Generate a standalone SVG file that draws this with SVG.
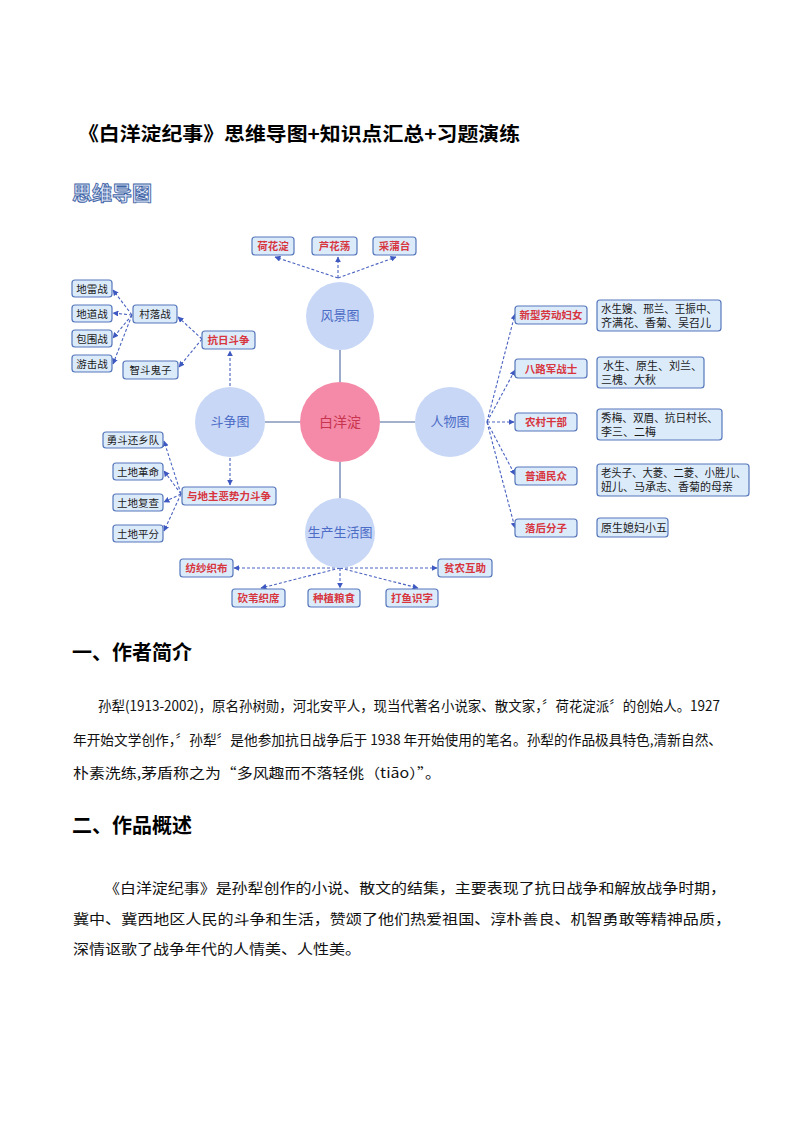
<svg xmlns="http://www.w3.org/2000/svg" width="794" height="1123" viewBox="0 0 794 1123">
<style>
.cjk{font-family:"Noto Sans CJK SC","Noto Sans",sans-serif}
.box{fill:#dcebfa;stroke:#5577bb;stroke-width:1.2}
.rt{fill:#d8363f;font-size:10.5px;font-weight:bold;font-family:"Noto Sans CJK SC",sans-serif;text-anchor:middle}
.bt{fill:#1a1a1a;font-size:10.5px;font-family:"Noto Sans CJK SC",sans-serif;text-anchor:middle}
.dt{fill:#1a1a1a;font-size:11px;font-family:"Noto Sans CJK SC",sans-serif}
.sat{fill:#c8d7f6}
.satt{fill:#4c6cc6;font-size:13px;font-family:"Noto Sans CJK SC",sans-serif;text-anchor:middle}
.solid{stroke:#8496bd;stroke-width:1.6;fill:none}
.dash{stroke:#4a62c0;stroke-width:1.1;stroke-dasharray:3 2;fill:none;marker-end:url(#ah)}
.body{fill:#111;font-size:14px;font-family:"Noto Sans CJK SC",sans-serif}
.h2{fill:#000;font-size:20px;font-weight:bold;font-family:"Noto Sans CJK SC",sans-serif}
</style>
<defs>
<marker id="ah" viewBox="0 0 10 10" refX="9" refY="5" markerWidth="6" markerHeight="6" orient="auto" markerUnits="userSpaceOnUse">
<path d="M0,0 L10,5 L0,10 z" fill="#3d58c0"/>
</marker>
</defs>
<rect width="794" height="1123" fill="#fff"/>

<text x="78" y="141" font-size="19.5" font-weight="bold" class="cjk" fill="#000" textLength="442" lengthAdjust="spacingAndGlyphs">《白洋淀纪事》思维导图+知识点汇总+习题演练</text>
<text x="72" y="201" font-size="20" font-weight="bold" class="cjk" fill="#dde8f8" stroke="#3f63a6" stroke-width="0.9">思维导图</text>

<g id="connectors">
<line class="solid" x1="340" y1="350" x2="340" y2="382"/>
<line class="solid" x1="300" y1="422" x2="265" y2="422"/>
<line class="solid" x1="380" y1="422" x2="415" y2="422"/>
<line class="solid" x1="340" y1="462" x2="340" y2="498"/>
<line class="dash" x1="338" y1="278" x2="275" y2="257"/>
<line class="dash" x1="338" y1="278" x2="338" y2="257"/>
<line class="dash" x1="338" y1="278" x2="396" y2="257"/>
<line class="dash" x1="230" y1="386" x2="230" y2="351"/>
<line class="dash" x1="202" y1="339" x2="178" y2="317"/>
<line class="dash" x1="202" y1="339" x2="179" y2="367"/>
<line class="dash" x1="132" y1="315" x2="113" y2="290"/>
<line class="dash" x1="132" y1="315" x2="113" y2="313"/>
<line class="dash" x1="132" y1="315" x2="113" y2="338"/>
<line class="dash" x1="132" y1="315" x2="113" y2="364"/>
<line class="dash" x1="230" y1="458" x2="230" y2="485"/>
<line class="dash" x1="181" y1="494" x2="164" y2="441"/>
<line class="dash" x1="181" y1="494" x2="164" y2="471"/>
<line class="dash" x1="181" y1="494" x2="164" y2="502"/>
<line class="dash" x1="181" y1="494" x2="164" y2="531"/>
<line class="dash" x1="487" y1="422" x2="515" y2="314"/>
<line class="dash" x1="487" y1="422" x2="515" y2="370"/>
<line class="dash" x1="487" y1="422" x2="514" y2="422"/>
<line class="dash" x1="487" y1="422" x2="515" y2="475"/>
<line class="dash" x1="487" y1="422" x2="515" y2="528"/>
<line class="dash" x1="340" y1="568" x2="234" y2="568"/>
<line class="dash" x1="340" y1="568" x2="437" y2="568"/>
<line class="dash" x1="340" y1="568" x2="261" y2="588"/>
<line class="dash" x1="340" y1="568" x2="340" y2="588"/>
<line class="dash" x1="340" y1="568" x2="418" y2="588"/>
</g>

<g id="n-center"><circle cx="340" cy="422" r="40" fill="#f48aa7"/><text x="340" y="427" class="satt" style="fill:#c8344e;font-size:14px">白洋淀</text></g>
<g id="n-fengjing"><circle class="sat" cx="340" cy="316" r="34"/><text x="340" y="320" class="satt">风景图</text></g>
<g id="n-douzheng"><circle class="sat" cx="230" cy="422" r="35"/><text x="230" y="426" class="satt">斗争图</text></g>
<g id="n-renwu"><circle class="sat" cx="450" cy="422" r="35"/><text x="450" y="426" class="satt">人物图</text></g>
<g id="n-shengchan"><circle class="sat" cx="340" cy="533" r="35"/><text x="340" y="537" class="satt">生产生活图</text></g>

<g id="n-hehuadian"><rect class="box" x="252" y="237" width="42" height="18" rx="3"/><text class="rt" x="273" y="250">荷花淀</text></g>
<g id="n-luhuadang"><rect class="box" x="312" y="237" width="45" height="18" rx="3"/><text class="rt" x="334.5" y="250">芦花荡</text></g>
<g id="n-caiputai"><rect class="box" x="373" y="237" width="43" height="18" rx="3"/><text class="rt" x="394.5" y="250">采蒲台</text></g>

<g id="n-dilei"><rect class="box" x="72" y="280" width="40" height="17" rx="3"/><text class="bt" x="92" y="292.5">地雷战</text></g>
<g id="n-didao"><rect class="box" x="72" y="305" width="40" height="17" rx="3"/><text class="bt" x="92" y="317.5">地道战</text></g>
<g id="n-baowei"><rect class="box" x="72" y="330" width="40" height="17" rx="3"/><text class="bt" x="92" y="342.5">包围战</text></g>
<g id="n-youji"><rect class="box" x="72" y="355" width="40" height="17" rx="3"/><text class="bt" x="92" y="367.5">游击战</text></g>
<g id="n-cunluo"><rect class="box" x="133" y="305" width="44" height="18" rx="3"/><text class="bt" x="155" y="318">村落战</text></g>
<g id="n-kangri"><rect class="box" x="202" y="331" width="53" height="18" rx="3"/><text class="rt" x="228.5" y="344">抗日斗争</text></g>
<g id="n-zhidou"><rect class="box" x="123" y="361" width="55" height="18" rx="3"/><text class="bt" x="150.5" y="374">智斗鬼子</text></g>

<g id="n-yongdou"><rect class="box" x="103" y="432" width="60" height="16" rx="3"/><text class="bt" x="133" y="444">勇斗还乡队</text></g>
<g id="n-geming"><rect class="box" x="113" y="463" width="50" height="17" rx="3"/><text class="bt" x="138" y="475.5">土地革命</text></g>
<g id="n-fucha"><rect class="box" x="113" y="494" width="50" height="17" rx="3"/><text class="bt" x="138" y="506.5">土地复查</text></g>
<g id="n-pingfen"><rect class="box" x="113" y="525" width="50" height="17" rx="3"/><text class="bt" x="138" y="537.5">土地平分</text></g>
<g id="n-dizhu"><rect class="box" x="182" y="487" width="94" height="18" rx="3"/><text class="rt" x="229" y="500">与地主恶势力斗争</text></g>

<g id="n-funv"><rect class="box" x="515" y="306" width="72" height="18" rx="3"/><text class="rt" x="551" y="319">新型劳动妇女</text></g>
<g id="n-balu"><rect class="box" x="515" y="359" width="72" height="19" rx="3"/><text class="rt" x="551" y="372.5">八路军战士</text></g>
<g id="n-ganbu"><rect class="box" x="515" y="413" width="62" height="18" rx="3"/><text class="rt" x="546" y="426">农村干部</text></g>
<g id="n-minzhong"><rect class="box" x="515" y="467" width="62" height="18" rx="3"/><text class="rt" x="546" y="480">普通民众</text></g>
<g id="n-luohou"><rect class="box" x="515" y="519" width="62" height="18" rx="3"/><text class="rt" x="546" y="532">落后分子</text></g>

<g id="n-d1"><rect class="box" x="597" y="300" width="124" height="31" rx="3"/><text class="dt" x="601" y="313" textLength="116" lengthAdjust="spacingAndGlyphs">水生嫂、邢兰、王振中、</text><text class="dt" x="601" y="327">齐满花、香菊、吴召儿</text></g>
<g id="n-d2"><rect class="box" x="597" y="357" width="107" height="31" rx="3"/><text class="dt" x="603" y="370">水生、原生、刘兰、</text><text class="dt" x="601" y="384">三槐、大秋</text></g>
<g id="n-d3"><rect class="box" x="597" y="409" width="125" height="31" rx="3"/><text class="dt" x="601" y="422" textLength="117" lengthAdjust="spacingAndGlyphs">秀梅、双眉、抗日村长、</text><text class="dt" x="601" y="436">李三、二梅</text></g>
<g id="n-d4"><rect class="box" x="597" y="464" width="152" height="32" rx="3"/><text class="dt" x="601" y="477" textLength="145" lengthAdjust="spacingAndGlyphs">老头子、大菱、二菱、小胜儿、</text><text class="dt" x="601" y="491">妞儿、马承志、香菊的母亲</text></g>
<g id="n-d5"><rect class="box" x="597" y="518" width="71" height="19" rx="3"/><text class="dt" x="601" y="531.5">原生媳妇小五</text></g>

<g id="n-fangsha"><rect class="box" x="180" y="559" width="53" height="18" rx="3"/><text class="rt" x="206.5" y="572">纺纱织布</text></g>
<g id="n-pinnong"><rect class="box" x="438" y="559" width="54" height="18" rx="3"/><text class="rt" x="465" y="572">贫农互助</text></g>
<g id="n-kanwei"><rect class="box" x="232" y="589" width="53" height="18" rx="3"/><text class="rt" x="258.5" y="602">砍苇织席</text></g>
<g id="n-zhongzhi"><rect class="box" x="308" y="589" width="52" height="18" rx="3"/><text class="rt" x="334" y="602">种植粮食</text></g>
<g id="n-dayu"><rect class="box" x="386" y="589" width="52" height="18" rx="3"/><text class="rt" x="412" y="602">打鱼识字</text></g>

<text class="h2" x="72" y="660">一、作者简介</text>
<text class="body" x="98" y="711" textLength="622" lengthAdjust="spacingAndGlyphs">孙犁(1913-2002)，原名孙树勋，河北安平人，现当代著名小说家、散文家，〞荷花淀派〞的创始人。1927</text>
<text class="body" x="73" y="745" textLength="649" lengthAdjust="spacingAndGlyphs">年开始文学创作，〞孙犁〞是他参加抗日战争后于 1938 年开始使用的笔名。孙犁的作品极具特色,清新自然、</text>
<text class="body" x="73" y="778" textLength="368" lengthAdjust="spacingAndGlyphs">朴素洗练,茅盾称之为“多风趣而不落轻佻（tiāo）”。</text>

<text class="h2" x="72" y="833">二、作品概述</text>
<text class="body" x="104" y="893" textLength="622" lengthAdjust="spacingAndGlyphs">《白洋淀纪事》是孙犁创作的小说、散文的结集，主要表现了抗日战争和解放战争时期，</text>
<text class="body" x="73" y="924" textLength="658" lengthAdjust="spacingAndGlyphs">冀中、冀西地区人民的斗争和生活，赞颂了他们热爱祖国、淳朴善良、机智勇敢等精神品质，</text>
<text class="body" x="73" y="954" textLength="288" lengthAdjust="spacingAndGlyphs">深情讴歌了战争年代的人情美、人性美。</text>
</svg>
